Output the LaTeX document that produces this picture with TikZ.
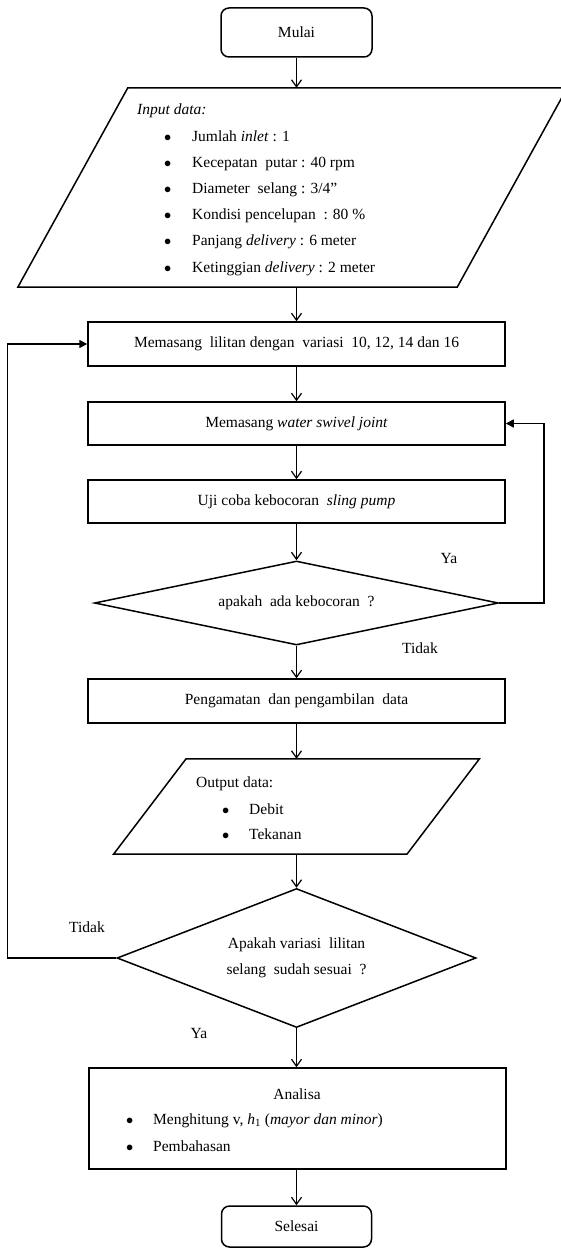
\documentclass[tikz,border=0pt]{standalone}
\usepackage{fontspec}
\setmainfont{Liberation Serif}
\usetikzlibrary{shapes.geometric,arrows.meta}
\newcommand{\blt}[1]{\makebox[#1][l]{\hspace*{-1pt}$\bullet$}}
\begin{document}
\begin{tikzpicture}[x=1pt,y=-1pt,
  every node/.style={font=\fontsize{15.5}{26}\selectfont},
  procbox/.style={draw, line width=1.5pt, minimum width=417pt, minimum height=44pt, inner sep=0pt},
  termbox/.style={draw, line width=1.5pt, rounded corners=8pt, inner sep=0pt},
  decbox/.style={diamond, draw, line width=1.5pt, inner sep=0pt, align=center},
  shapeline/.style={line width=1.5pt, line join=miter},
  arr/.style={line width=1.2pt, -{Straight Barb[length=7pt,width=10pt]}},
  backarr/.style={line width=1.5pt, -{Triangle[length=8pt,width=8pt]}},
  txtl/.style={anchor=base west, inner sep=0pt},
  lbltext/.style={inner sep=0pt}]
\useasboundingbox (0,0) rectangle (560,1249);

% Start
\node[termbox, minimum width=151pt, minimum height=49pt] (mulai) at (296.5,32.5) {Mulai};

% Input parallelogram
\node[minimum width=439pt, minimum height=199pt, inner sep=0pt] (inp) at (292.5,187.5) {};
\draw[shapeline] ([xshift=55pt]inp.north west) -- ([xshift=55pt]inp.north east)
  -- ([xshift=-55pt]inp.south east) -- ([xshift=-55pt]inp.south west) -- cycle;
\node[txtl] (inh) at (137,115) {\textit{Input data:}};
\node[txtl] (in1) at (165,142) {\blt{27pt}Jumlah \textit{inlet} : 1};
\node[txtl] (in2) at (165,168) {\blt{27pt}Kecepatan~ putar : 40 rpm};
\node[txtl] (in3) at (165,194) {\blt{27pt}Diameter~ selang : 3/4”};
\node[txtl] (in4) at (165,220) {\blt{27pt}Kondisi pencelupan~ : 80 \%};
\node[txtl] (in5) at (165,246) {\blt{27pt}Panjang \textit{delivery} : 6 meter};
\node[txtl] (in6) at (165,272) {\blt{27pt}Ketinggian \textit{delivery} : 2 meter};

% Process boxes
\node[procbox] (box1) at (296.5,344) {Memasang~ lilitan dengan~ variasi~ 10, 12, 14 dan 16};
\node[procbox, minimum height=43pt] (box2) at (296.5,423.5) {Memasang \textit{water swivel joint}};
\node[procbox, minimum height=43pt] (box3) at (296.5,501.5) {Uji coba kebocoran~ \textit{sling pump}};

% Decision 1
\node[decbox, aspect=4.8, minimum width=404pt, minimum height=84pt] (d1) at (296.5,603) {apakah~ ada kebocoran~ ?};

\node[procbox] (box4) at (296.5,701) {Pengamatan~ dan pengambilan~ data};

% Output parallelogram
\node[minimum width=293pt, minimum height=95pt, inner sep=0pt] (outp) at (296.5,806.5) {};
\draw[shapeline] ([xshift=36.25pt]outp.north west) -- ([xshift=36.25pt]outp.north east)
  -- ([xshift=-36.25pt]outp.south east) -- ([xshift=-36.25pt]outp.south west) -- cycle;
\node[txtl] (outh) at (196,787) {Output data:};
\node[txtl] (out1) at (223,814) {\blt{26pt}Debit};
\node[txtl] (out2) at (223,839) {\blt{26pt}Tekanan};

% Decision 2
\node[decbox, aspect=2.6, minimum width=359pt, minimum height=139pt] (d2) at (296.5,958) {Apakah variasi~ lilitan\\selang~ sudah sesuai~ ?};

% Analysis box
\node[procbox, minimum height=101pt] (ana) at (297.5,1118.5) {};
\node[anchor=base, inner sep=0pt] (anah) at (297,1099) {Analisa};
\node[txtl] (ana1) at (127,1124) {\blt{26pt}Menghitung v, \textit{h}\textsubscript{1} (\textit{mayor dan minor})};
\node[txtl] (ana2) at (127,1151) {\blt{26pt}Pembahasan};

% End
\node[termbox, minimum width=150pt, minimum height=41pt] (selesai) at (296.5,1226.5) {Selesai};

% Labels
\node[lbltext] (ya1) at (449,558) {Ya};
\node[lbltext] (tidak1) at (420,648) {Tidak};
\node[lbltext] (tidak2) at (87,927) {Tidak};
\node[lbltext] (ya2) at (199,1033) {Ya};

% Connectors
\draw[arr] (mulai) -- (mulai |- inp.north);
\draw[arr] (box1 |- inp.south) -- (box1);
\draw[arr] (box1) -- (box2);
\draw[arr] (box2) -- (box3);
\draw[arr] (box3) -- (d1);
\draw[arr] (d1) -- (box4);
\draw[arr] (box4) -- (box4 |- outp.north);
\draw[arr] (d2 |- outp.south) -- (d2);
\draw[arr] (d2) -- (d2 |- ana.north);
\draw[arr] (selesai |- ana.south) -- (selesai);
\draw[backarr] (d1.east) -- ++(44.5,0) |- (box2.east);
\draw[backarr] (d2.west) -- ++(-109,0) |- (box1.west);
\end{tikzpicture}
\end{document}
